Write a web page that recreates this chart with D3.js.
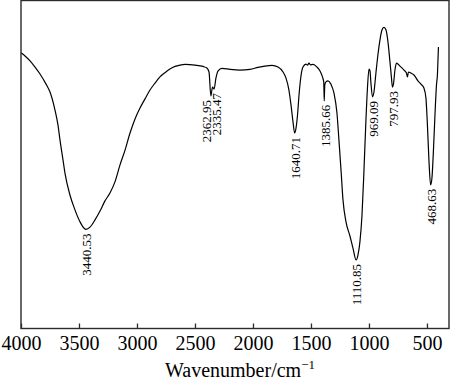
<!DOCTYPE html>
<html>
<head>
<meta charset="utf-8">
<script src="https://cdn.jsdelivr.net/npm/d3@7"></script>
<style>
  html, body { margin: 0; padding: 0; background: #fff; }
  svg { display: block; }
</style>
</head>
<body>
<svg id="chart" width="450" height="380"></svg>
<script>
// Wavenumber (cm^-1) of each sampled point of the spectrum
const wavenumbers = [
  4000, 3965, 3922, 3879, 3836, 3784, 3750, 3707, 3681, 3664, 3638, 3621, 3578, 3534, 3491, 3457,
  3440.53, 3405, 3362, 3319, 3276, 3233, 3190, 3147, 3103, 3060, 3017, 2974, 2931, 2888, 2845,
  2802, 2759, 2716, 2672, 2629, 2586, 2500, 2431, 2397, 2379, 2362.95, 2349, 2335.47, 2319, 2302,
  2267, 2198, 2112, 2026, 1957, 1897, 1836, 1784, 1741, 1716, 1690, 1672, 1655, 1640.71, 1629,
  1616, 1603, 1586, 1569, 1543, 1530, 1517, 1505, 1483, 1448, 1422, 1401, 1390, 1385.66, 1381,
  1371, 1353, 1328, 1302, 1276, 1259, 1241, 1224, 1198, 1164, 1138, 1110.85, 1095, 1078, 1060,
  1043, 1026, 1013, 1000, 991, 983, 969.09, 957, 940, 922, 905, 888, 871, 853, 836, 819, 806,
  797.93, 789, 776, 763, 733, 698, 677, 668, 660, 638, 612, 578, 552, 526, 509, 496, 483,
  468.63, 457, 444, 431, 418, 409, 405, 401
];
// Transmittance (%)
const transmittance = [
  84.1, 83.1, 81.6, 79.7, 77.6, 74.5, 72.1, 66.6, 62.0, 57.5, 51.4, 47.4, 40.7, 36.1, 32.5, 30.6,
  30.2, 30.9, 33.1, 35.8, 38.9, 41.3, 44.7, 49.8, 54.4, 59.6, 63.9, 67.2, 70.0, 72.7, 74.8,
  76.7, 78.0, 79.1, 79.9, 80.3, 80.5, 80.3, 79.9, 79.4, 78.2, 70.9, 73.6, 73.0, 76.4, 78.5,
  79.3, 79.0, 78.8, 79.0, 79.6, 80.0, 80.2, 79.7, 78.2, 76.4, 72.7, 68.1, 63.0, 59.6, 61.1,
  65.1, 71.2, 77.0, 79.7, 80.6, 80.3, 80.9, 80.4, 80.5, 79.7, 78.5, 76.7, 75.2, 69.4, 74.2,
  75.2, 75.5, 74.5, 71.8, 65.7, 57.5, 48.3, 39.2, 32.5, 28.2, 24.5, 20.9, 22.4, 26.4, 34.6,
  48.3, 63.6, 73.3, 79.1, 78.5, 74.8, 70.6, 72.1, 77.9, 83.7, 88.0, 91.0, 91.8, 91.0, 87.3, 81.3, 76.4,
  73.6, 74.5, 78.8, 80.9, 80.0, 78.8, 77.9, 76.7, 78.2, 77.9, 77.3, 75.5, 74.5, 73.3, 70.3, 62.0, 51.4,
  43.8, 45.9, 54.4, 65.1, 74.2, 77.9, 81.9, 85.8
];
// Peak annotations
const peakLabels = ["3440.53", "2362.95", "2335.47", "1640.71", "1385.66", "1110.85", "969.09", "797.93", "468.63"];
const peakWavenumbers = [3440.53, 2362.95, 2335.47, 1640.71, 1385.66, 1110.85, 969.09, 797.93, 468.63];
// Axis ticks
const xTicks = [4000, 3500, 3000, 2500, 2000, 1500, 1000, 500];
const xTitle = "Wavenumber/cm";
const xTitleSup = "\u22121";

const svg = d3.select("#chart");
const plotLeft = 21, plotRight = 449, plotTop = 0.5, plotBottom = 328.5;

const x = d3.scaleLinear().domain([4000, 310]).range([plotLeft, plotRight]);
const y = d3.scaleLinear().domain([0, 100]).range([plotBottom, plotTop]);

const points = wavenumbers.map((w, i) => ({ w, t: transmittance[i] }));

// spectrum
const line = d3.line()
  .x(d => x(d.w))
  .y(d => y(d.t))
  .curve(d3.curveMonotoneX);

svg.append("path")
  .datum(points)
  .attr("d", line)
  .attr("fill", "none")
  .attr("stroke", "#000")
  .attr("stroke-width", 1.2)
  .attr("stroke-linejoin", "round");

// frame
svg.append("rect")
  .attr("x", plotLeft).attr("y", plotTop)
  .attr("width", plotRight - plotLeft).attr("height", plotBottom - plotTop)
  .attr("fill", "none")
  .attr("stroke", "#2a2a2a")
  .attr("stroke-width", 1.4);

// bottom axis
const axis = d3.axisBottom(x)
  .tickValues(xTicks)
  .tickFormat(d3.format("d"))
  .tickSizeInner(-5)
  .tickSizeOuter(0)
  .tickPadding(7);

const gx = svg.append("g")
  .attr("transform", `translate(0,${plotBottom})`)
  .call(axis);
gx.select(".domain").remove();
gx.selectAll(".tick line").attr("stroke", "#2a2a2a").attr("stroke-width", 1.3);
gx.selectAll(".tick text")
  .attr("fill", "#000")
  .style("font-family", "'Liberation Serif', 'Times New Roman', serif")
  .style("font-size", "20px");

// axis title
const title = svg.append("text")
  .attr("x", 240)
  .attr("y", 377)
  .attr("text-anchor", "middle")
  .style("font-family", "'Liberation Serif', 'Times New Roman', serif")
  .style("font-size", "20px")
  .attr("fill", "#000");
title.append("tspan").text(xTitle);
title.append("tspan")
  .attr("dy", -8)
  .style("font-size", "13px")
  .text(xTitleSup);

// peak labels
const labelShift = { "2362.95": -4.5, "2335.47": 2.5 };
peakLabels.forEach((lab, i) => {
  const w = peakWavenumbers[i];
  const p = points.find(d => d.w === w);
  const px = x(w) + (labelShift[lab] || 0.8);
  const py = y(p.t) + 4;
  svg.append("text")
    .attr("transform", `translate(${px},${py}) rotate(-90)`)
    .attr("text-anchor", "end")
    .attr("dy", "0.35em")
    .style("font-family", "'Liberation Serif', 'Times New Roman', serif")
    .style("font-size", "13px")
    .attr("fill", "#000")
    .text(lab);
});
</script>
</body>
</html>
